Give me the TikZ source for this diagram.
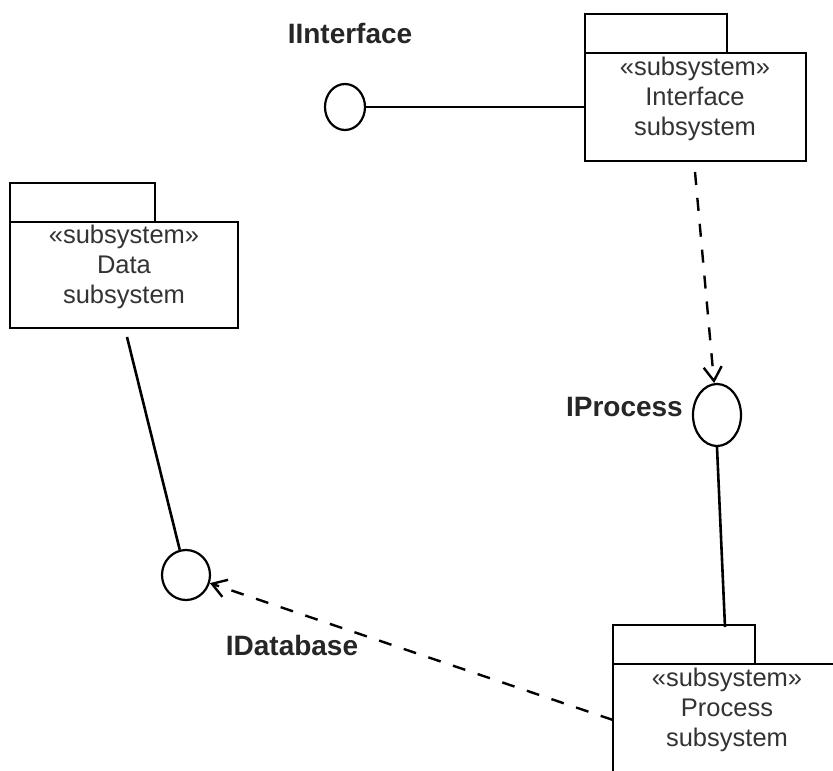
\documentclass[tikz,border=0pt]{standalone}
\usepackage{fontspec}
\setmainfont{Liberation Sans}
\usetikzlibrary{arrows.meta,shapes.geometric}

\tikzset{
  tabbox/.style={draw, line width=2.6pt, fill=white, minimum width=#1, minimum height=39pt,
    inner sep=0pt, outer sep=0pt, anchor=south west},
  bodybox/.style={draw, line width=2.6pt, fill=white, inner sep=0pt, outer sep=0pt, anchor=north west},
  stereo/.style={anchor=north, inner sep=0pt, align=center, text=black!80,
    font=\fontsize{25.5pt}{30pt}\selectfont},
  lolli/.style={draw, line width=2.2pt, fill=white, ellipse, inner sep=0pt},
  iname/.style={inner sep=0pt, font=\fontsize{28pt}{32pt}\selectfont\bfseries, text=black!85},
  realize/.style={line width=2.6pt},
  dep/.style={line width=2.4pt, dash pattern=on 13pt off 13pt,
    -{Straight Barb[length=14pt, width=18pt, line width=2.4pt]}}
}

\begin{document}
\begin{tikzpicture}[x=1pt, y=-1pt]
  \useasboundingbox (0,0) rectangle (833,771);
  \clip (0,0) rectangle (833,771);

  % Interface subsystem package
  \node[tabbox=142pt] (itab) at (585,53) {};
  \node[bodybox, minimum width=221pt, minimum height=108pt] (ibody) at (585,53) {};
  \node[stereo] (itext) at (695,57) {«subsystem»\\Interface\\subsystem};

  % Data subsystem package
  \node[tabbox=145pt] (dtab) at (10,222) {};
  \node[bodybox, minimum width=228pt, minimum height=106pt] (dbody) at (10,222) {};
  \node[stereo] (dtext) at (124,225) {«subsystem»\\Data\\subsystem};

  % Process subsystem package (runs past the page edge)
  \node[tabbox=142pt] (ptab) at (613,664) {};
  \node[bodybox, minimum width=228pt, minimum height=130pt] (pbody) at (613,664) {};
  \node[stereo] (ptext) at (727,668) {«subsystem»\\Process\\subsystem};

  % provided interfaces
  \node[lolli, minimum width=40pt, minimum height=46pt] (iint) at (345,107) {};
  \node[lolli, minimum width=48pt, minimum height=62pt] (iproc) at (717,415) {};
  \node[lolli, minimum width=48pt, minimum height=50pt] (idb) at (186,575) {};

  \node[iname] (lint) at (350,33) {IInterface};
  \node[iname, anchor=east] (lproc) at (683,407) {IProcess};
  \node[iname] (ldb) at (292,645) {IDatabase};

  % connection points on the packages
  \coordinate (ibot) at (695,172);
  \coordinate (dbot) at (127,337);
  \coordinate (ptop) at (725,627);
  \coordinate (pleft) at (613,720);

  % realizations
  \draw[realize] (iint.east) -- (iint.east -| ibody.west);
  \draw[realize] (dbot) -- (idb);
  \draw[realize] (iproc.south) -- (ptop);

  % dependencies
  \draw[dep] (ibot) -- (iproc);
  \draw[dep] (pleft) -- (idb);
\end{tikzpicture}
\end{document}
